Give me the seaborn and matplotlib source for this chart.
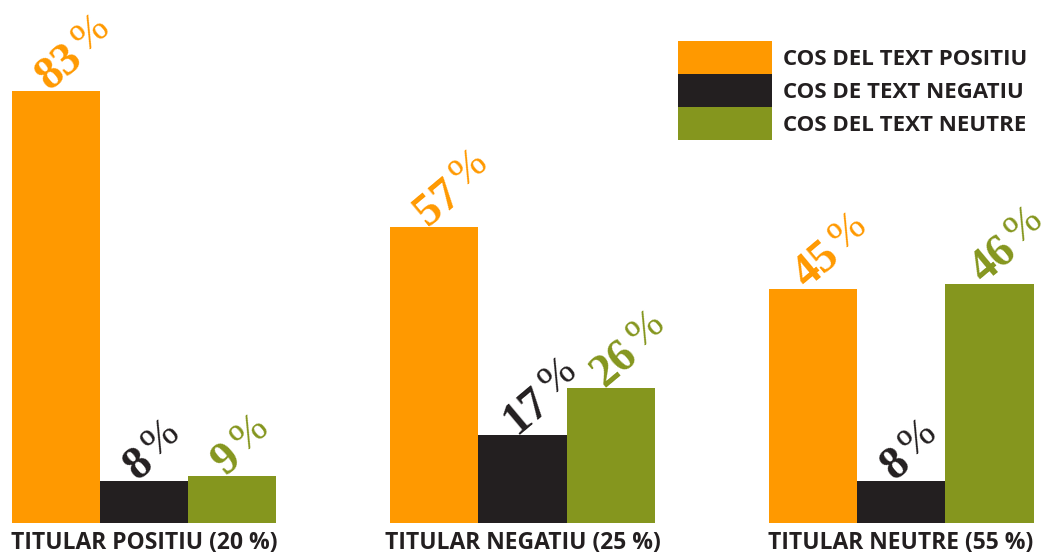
import math
import matplotlib
matplotlib.use("Agg")
import matplotlib.pyplot as plt
from matplotlib.font_manager import FontProperties
from matplotlib.textpath import TextPath
import pandas as pd
import seaborn as sns

# Values
groups = ["TITULAR POSITIU (20 %)", "TITULAR NEGATIU (25 %)", "TITULAR NEUTRE (55 %)"]
series = ["COS DEL TEXT POSITIU", "COS DE TEXT NEGATIU", "COS DEL TEXT NEUTRE"]
positiu = [83, 57, 45]
negatiu = [8, 17, 8]
neutre = [9, 26, 46]
colors = ["#FF9900", "#231F20", "#85961E"]

df = pd.DataFrame({
    "titular": groups * 3,
    "cos": [s for s in series for _ in groups],
    "pct": positiu + negatiu + neutre,
})

sns.set_theme(style="white")
plt.rcParams["font.family"] = ["Open Sans", "DejaVu Sans"]
text_col = "#231F20"

fig = plt.figure(figsize=(10.5, 5.54), dpi=100)
ax = fig.add_axes([11.5 / 1050, 31 / 554, 1022 / 1050, 520 / 554])

sns.barplot(data=df, x="titular", y="pct", hue="cos", palette=colors,
            width=0.7, linewidth=0, saturation=1, ax=ax)

# Rotated value labels: bold serif number, lighter raised "%"
angle = 40
num_fp = FontProperties(family="Liberation Serif", weight="bold", size=33)
pct_fp = FontProperties(family="Liberation Serif", weight="normal", size=30)
ca, sa = math.cos(math.radians(angle)), math.sin(math.radians(angle))
dx0, dy0 = -4.5, 0
gap, rise = 5, 5
for cont, col in zip(ax.containers, colors):
    for bar in cont:
        h = bar.get_height()
        s = f"{h:.0f}"
        xy = (bar.get_x() + bar.get_width() / 2, h)
        ax.annotate(s, xy, xytext=(dx0, dy0), textcoords="offset points",
                    rotation=angle, rotation_mode="anchor", ha="left", va="baseline",
                    fontproperties=num_fp, color=col, annotation_clip=False)
        w = TextPath((0, 0), s, prop=num_fp).get_extents().xmax
        d = w + gap
        ax.annotate("%", xy,
                    xytext=(dx0 + d * ca - rise * sa, dy0 + d * sa + rise * ca),
                    textcoords="offset points",
                    rotation=angle, rotation_mode="anchor", ha="left", va="baseline",
                    fontproperties=pct_fp, color=col, annotation_clip=False)

ax.set_xlim(-0.35, 2.35)
ax.set_ylim(0, 100)
ax.set_xlabel("")
ax.set_ylabel("")
ax.set_yticks([])
sns.despine(ax=ax, left=True, bottom=True)
ax.tick_params(axis="x", length=0, pad=6)
ax.set_xticks([0, 1, 2])
ax.set_xticklabels(groups, fontweight="bold", fontsize=16.5, color=text_col)

# Legend: stacked colour blocks with no gaps
handles = ax.get_legend().legend_handles
ax.get_legend().remove()
lfs = 16
fs = lfs * 100 / 72
hh = (33 / fs - 0.245) / 0.65
ax.legend(handles, series, loc="upper left",
          bbox_to_anchor=(678 / 1050, 1 - 41 / 554), bbox_transform=fig.transFigure,
          frameon=False, borderpad=0, borderaxespad=0,
          handlelength=94 / fs, handleheight=hh, handletextpad=11 / fs,
          labelspacing=0, prop={"family": "Open Sans", "weight": "bold", "size": lfs},
          labelcolor=text_col)

fig.savefig("out.png", dpi=100)
